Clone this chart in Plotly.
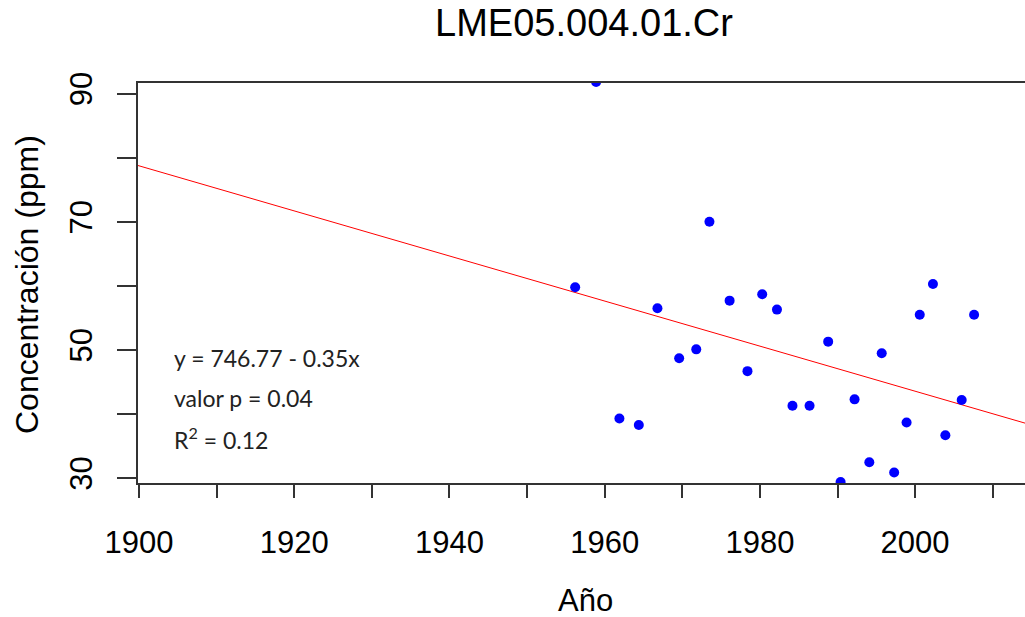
import plotly.graph_objects as go

# ---- data ----
years = [1956.2, 1958.9, 1961.9, 1964.4, 1966.8, 1969.6, 1971.8, 1973.5, 1976.1,
         1978.4, 1980.3, 1982.2, 1984.2, 1986.4, 1988.8, 1990.4, 1992.2, 1994.1,
         1995.7, 1997.3, 1998.9, 2000.6, 2002.3, 2003.9, 2006.0, 2007.6]
conc = [59.8, 91.8, 39.3, 38.3, 56.5, 48.7, 50.1, 70.0, 57.7,
        46.7, 58.7, 56.3, 41.3, 41.3, 51.3, 29.4, 42.3, 32.5,
        49.5, 30.9, 38.7, 55.5, 60.3, 36.7, 42.2, 55.5]

intercept = 746.77
slope = -0.3516

x_range = [1899.87, 2014.16]
y_range = [29.25, 91.65]

x_tickvals = [1900, 1920, 1940, 1960, 1980, 2000]
x_ticktext = ["1900", "1920", "1940", "1960", "1980", "2000"]
x_minor_ticks = [1910, 1930, 1950, 1970, 1990, 2010]
y_tickvals = [30, 50, 70, 90]
y_ticktext = ["30", "50", "70", "90"]
y_minor_ticks = [40, 60, 80]

title_text = "LME05.004.01.Cr"
x_title = "Año"
y_title = "Concentración (ppm)"
stats_lines = ["y = 746.77 - 0.35x", "valor p = 0.04", "R<sup>2</sup> = 0.12"]

W, H = 1025, 617
ML, MR, MT, MB = 138, 0, 83, 134

fig = go.Figure()
line_x = list(x_range)
line_y = [intercept + slope * v for v in line_x]
fig.add_trace(go.Scatter(x=line_x, y=line_y, mode="lines",
                         line=dict(color="#ff0000", width=1), hoverinfo="skip"))
fig.add_trace(go.Scatter(x=years, y=conc, mode="markers",
                         marker=dict(color="#0000ff", size=10)))

axis_font = dict(family="Liberation Sans, Arial, sans-serif", size=31, color="black")

fig.update_layout(
    width=W, height=H,
    margin=dict(l=ML, r=MR, t=MT, b=MB, pad=0),
    paper_bgcolor="white", plot_bgcolor="white",
    showlegend=False,
    title=dict(text=title_text, x=584 / W, xanchor="center",
               y=1 - 22.5 / H, yanchor="middle", yref="container",
               font=dict(family="Liberation Sans, Arial, sans-serif", size=38, color="black")),
    xaxis=dict(range=x_range, tickmode="array", tickvals=x_tickvals, ticktext=x_ticktext,
               ticks="outside", ticklen=13, tickwidth=1.5, tickcolor="#333",
               minor=dict(tickmode="array", tickvals=x_minor_ticks, ticks="outside",
                          ticklen=13, tickwidth=1.5, tickcolor="#333", showgrid=False),
               showline=True, linecolor="#333", linewidth=1.5, mirror=True,
               showgrid=False, zeroline=False, tickfont=axis_font,
               ticklabelstandoff=18),
    yaxis=dict(range=y_range, tickmode="array", tickvals=y_tickvals, ticktext=y_ticktext,
               ticks="outside", ticklen=19, tickwidth=1.5, tickcolor="#333",
               minor=dict(tickmode="array", tickvals=y_minor_ticks, ticks="outside",
                          ticklen=19, tickwidth=1.5, tickcolor="#333", showgrid=False),
               showline=True, linecolor="#333", linewidth=1.5,
               showgrid=False, zeroline=False, tickfont=axis_font,
               tickangle=-90, ticklabelstandoff=13),
)

# axis titles
fig.add_annotation(text=x_title, xref="paper", yref="paper",
                   x=(585 - ML) / (W - ML - MR), y=-(600 - (H - MB)) / (H - MT - MB),
                   xanchor="center", yanchor="middle", showarrow=False,
                   font=dict(family="Liberation Sans, Arial, sans-serif", size=31, color="black"))
fig.add_annotation(text=y_title, xref="paper", yref="paper",
                   x=-(ML - 27) / (W - ML - MR), y=(H - MB - 284) / (H - MT - MB),
                   xanchor="center", yanchor="middle", showarrow=False, textangle=-90,
                   font=dict(family="Liberation Sans, Arial, sans-serif", size=32, color="black"))

# stats text
for i, t in enumerate(stats_lines):
    yc = 358 + 40 * i
    fig.add_annotation(text=t, xref="paper", yref="paper",
                       x=(172 - ML) / (W - ML - MR), y=(H - MB - yc) / (H - MT - MB),
                       xanchor="left", yanchor="middle", showarrow=False,
                       font=dict(family="Lato, Open Sans, sans-serif", size=23, color="#222"))

fig.write_html("out.html")
